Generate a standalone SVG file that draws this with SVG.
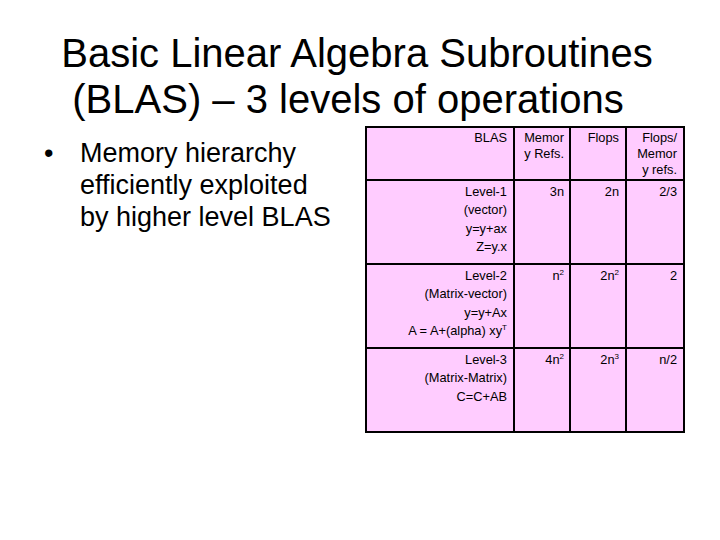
<svg xmlns="http://www.w3.org/2000/svg" width="720" height="540" viewBox="0 0 720 540">
<style>
.t{font-family:"Liberation Sans",Arial,sans-serif;fill:#000}
.title{font-size:40px;text-anchor:middle}
.b{font-size:27px}
.c{font-size:12.8px;text-anchor:end}
.g{stroke:#000;stroke-width:2;fill:none}
</style>
<rect width="720" height="540" fill="#fff"/>
<g id="title">
<text class="t title" x="357" y="67">Basic Linear Algebra Subroutines</text>
<text class="t title" x="348" y="113">(BLAS) – 3 levels of operations</text>
</g>
<g id="bullet">
<text class="t b" x="44" y="162">•</text>
<text class="t b" x="80" y="162">Memory hierarchy</text>
<text class="t b" x="80" y="194">efficiently exploited</text>
<text class="t b" x="80" y="226">by higher level BLAS</text>
</g>
<g id="table">
<rect x="366" y="127" width="318" height="305" fill="#ffccff"/>
<path class="g" d="M514 127V432M570 127V432M626 127V432M366 180H684M366 264H684M366 348H684"/>
<rect class="g" x="366" y="127" width="318" height="305" stroke-width="2.5"/>
<g class="t c">
<text x="507" y="142">BLAS</text>
<text x="564" y="142">Memor</text><text x="564" y="158">y Refs.</text>
<text x="619" y="142">Flops</text>
<text x="677" y="142">Flops/</text><text x="677" y="158">Memor</text><text x="677" y="174">y refs.</text>

<text x="507" y="196">Level-1</text><text x="507" y="214">(vector)</text><text x="507" y="233">y=y+ax</text><text x="507" y="251">Z=y.x</text>
<text x="564" y="196">3n</text><text x="619" y="196">2n</text><text x="677" y="196">2/3</text>

<text x="507" y="280">Level-2</text><text x="507" y="298">(Matrix-vector)</text><text x="507" y="317">y=y+Ax</text><text x="507" y="335">A = A+(alpha) xy<tspan font-size="8" dy="-5">T</tspan></text>
<text x="564" y="280">n<tspan font-size="8" dy="-5">2</tspan></text><text x="619" y="280">2n<tspan font-size="8" dy="-5">2</tspan></text><text x="677" y="280">2</text>

<text x="507" y="364">Level-3</text><text x="507" y="382">(Matrix-Matrix)</text><text x="507" y="401">C=C+AB</text>
<text x="564" y="364">4n<tspan font-size="8" dy="-5">2</tspan></text><text x="619" y="364">2n<tspan font-size="8" dy="-5">3</tspan></text><text x="677" y="364">n/2</text>
</g>
</g>
</svg>
